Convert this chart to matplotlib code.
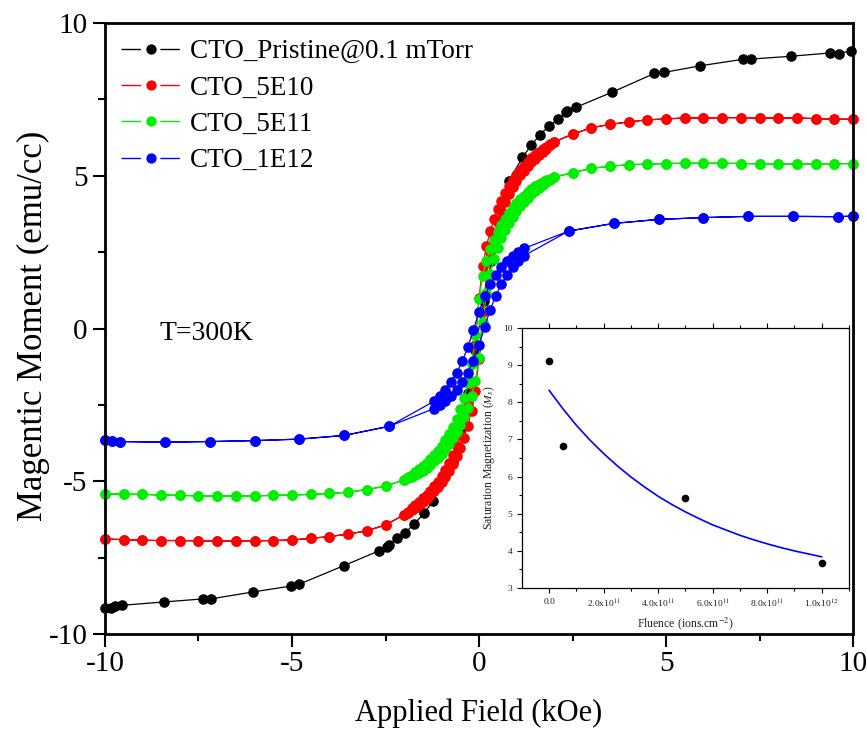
import matplotlib
matplotlib.use("Agg")
import matplotlib.pyplot as plt
from matplotlib.lines import Line2D

plt.rcParams['font.family'] = ['Liberation Serif', 'DejaVu Serif']
plt.rcParams['mathtext.fontset'] = 'stix'
plt.rcParams['axes.unicode_minus'] = False

# ---- main M-H loops (H in kOe, M in emu/cc) ----
# outer sparse points, positive side from +10 down, negative side from -2.5 down to -10
outer_H_pos = [10.0, 9.5, 9.0, 8.5, 8.0, 7.5, 7.0, 6.5, 6.0, 5.5, 5.0, 4.5, 4.0, 3.5, 3.0, 2.5]
outer_H_neg = [-2.5, -3.0, -3.5, -4.0, -4.5, -5.0, -5.5, -6.0, -6.5, -7.0, -7.5, -8.0, -8.5, -9.0, -9.5, -10.0]
dense_H = [2.0, 1.9, 1.8, 1.7, 1.6, 1.5, 1.4, 1.3, 1.2, 1.1, 1.0, 0.9, 0.8, 0.7, 0.6, 0.5, 0.4, 0.3, 0.2, 0.1,
           0.0, -0.1, -0.2, -0.3, -0.4, -0.5, -0.6, -0.7, -0.8, -0.9, -1.0, -1.1, -1.2, -1.3, -1.4, -1.5,
           -1.6, -1.7, -1.8, -1.9, -2.0]

black_H = [9.94, 9.63, 9.39, 8.34, 7.28, 7.05, 5.92, 4.94, 4.69, 3.55, 2.59, 2.36, 2.32, 2.12, 1.87, 1.62,
           1.40, 1.16, 0.80, 0.55, 0.33, 0.12, -0.10, -0.30, -0.50, -0.70, -1.24, -1.46, -1.73, -1.97, -2.20,
           -2.41, -2.46, -2.68, -3.61, -4.81, -5.03, -6.03, -7.17, -7.38, -8.42, -9.55, -9.72, -9.83, -10.0]
black_M = [9.09, 9.00, 9.02, 8.91, 8.82, 8.81, 8.60, 8.38, 8.35, 7.73, 7.24, 7.13, 7.07, 6.85, 6.63, 6.33,
           6.00, 5.60, 4.83, 3.50, 2.20, 0.90, -0.70, -2.10, -3.30, -4.38, -5.66, -6.04, -6.39, -6.68, -6.86,
           -7.07, -7.14, -7.28, -7.76, -8.37, -8.43, -8.62, -8.85, -8.85, -8.95, -9.06, -9.08, -9.15, -9.14]

red_pos = [6.85, 6.85, 6.87, 6.89, 6.89, 6.89, 6.90, 6.90, 6.89, 6.89, 6.86, 6.83, 6.76, 6.68, 6.57, 6.36]
red_neg = [-6.43, -6.62, -6.73, -6.81, -6.87, -6.92, -6.94, -6.95, -6.95, -6.95, -6.95, -6.94, -6.94, -6.93, -6.91, -6.89]
red_down = [6.10, 6.03, 5.95, 5.87, 5.78, 5.68, 5.57, 5.45, 5.32, 5.18, 5.02, 4.85, 4.65, 4.43, 4.18, 3.90, 3.57,
            3.18, 2.70, 2.05, 1.00, -0.55, -1.75, -2.50, -3.05, -3.48, -3.84, -4.14, -4.40, -4.63, -4.83, -5.01,
            -5.17, -5.31, -5.44, -5.56, -5.67, -5.78, -5.89, -6.00, -6.10]
red_up = [-6.10, -6.03, -5.95, -5.87, -5.78, -5.68, -5.57, -5.45, -5.32, -5.18, -5.02, -4.85, -4.65, -4.43, -4.18,
          -3.90, -3.57, -3.18, -2.70, -2.05, -1.00, 0.55, 1.75, 2.50, 3.05, 3.48, 3.84, 4.14, 4.40, 4.63, 4.83,
          5.01, 5.17, 5.31, 5.44, 5.56, 5.67, 5.78, 5.89, 6.00, 6.10]

green_pos = [5.40, 5.39, 5.39, 5.39, 5.39, 5.39, 5.40, 5.41, 5.41, 5.41, 5.40, 5.38, 5.36, 5.31, 5.24, 5.10]
green_neg = [-5.16, -5.27, -5.36, -5.40, -5.43, -5.45, -5.46, -5.48, -5.48, -5.48, -5.48, -5.46, -5.45, -5.43, -5.42, -5.41]
green_down = [4.95, 4.90, 4.85, 4.80, 4.73, 4.65, 4.56, 4.46, 4.35, 4.23, 4.10, 3.95, 3.79, 3.60, 3.40, 3.17, 2.90,
              2.60, 2.22, 1.72, 0.95, -0.20, -1.15, -1.80, -2.27, -2.63, -2.95, -3.22, -3.45, -3.66, -3.84, -4.00,
              -4.14, -4.27, -4.39, -4.50, -4.60, -4.69, -4.78, -4.87, -4.95]
green_up = [-4.95, -4.90, -4.85, -4.80, -4.73, -4.65, -4.56, -4.46, -4.35, -4.23, -4.10, -3.95, -3.79, -3.60, -3.40,
            -3.17, -2.90, -2.60, -2.22, -1.72, -0.95, 0.20, 1.15, 1.80, 2.27, 2.63, 2.95, 3.22, 3.45, 3.66, 3.84,
            4.00, 4.14, 4.27, 4.39, 4.50, 4.60, 4.69, 4.78, 4.87, 4.95]

blue_H_pos = [10.0, 9.6, 8.4, 7.2, 6.0, 4.8, 3.6, 2.4]
blue_pos = [3.68, 3.66, 3.67, 3.67, 3.63, 3.57, 3.44, 3.19]
blue_H_neg = [-2.4, -3.6, -4.8, -6.0, -7.2, -8.4, -9.6, -9.8, -10.0]
blue_neg = [-3.20, -3.50, -3.62, -3.67, -3.70, -3.72, -3.70, -3.68, -3.66]
blue_dense_H = [1.2, 1.05, 0.9, 0.75, 0.6, 0.45, 0.3, 0.15, 0.0, -0.15, -0.3, -0.45, -0.6, -0.75, -0.9, -1.05, -1.2]
blue_down = [2.62, 2.50, 2.36, 2.20, 2.00, 1.76, 1.45, 1.05, 0.55, -0.05, -0.62, -1.08, -1.45, -1.75, -2.00, -2.20, -2.38]
blue_up = [-2.62, -2.50, -2.36, -2.20, -2.00, -1.76, -1.45, -1.05, -0.55, 0.05, 0.62, 1.08, 1.45, 1.75, 2.00, 2.20, 2.38]

labels = ["CTO_Pristine@0.1 mTorr", "CTO_5E10", "CTO_5E11", "CTO_1E12"]
colors = ["black", "#ff0000", "#00ee00", "#0000ff"]

# ---- inset: saturation magnetization vs fluence ----
fluence = [0.0, 0.5e11, 5e11, 1e12]
ms = [9.12, 6.83, 5.41, 3.68]
fit_x = [0.0, 0.5e11, 1e11, 1.5e11, 2e11, 2.5e11, 3e11, 3.5e11, 4e11, 4.5e11, 5e11,
         5.5e11, 6e11, 6.5e11, 7e11, 7.5e11, 8e11, 8.5e11, 9e11, 9.5e11, 1e12]
fit_y = [8.32, 7.83, 7.38, 6.98, 6.62, 6.29, 5.99, 5.72, 5.47, 5.25, 5.05,
         4.87, 4.70, 4.56, 4.42, 4.30, 4.19, 4.09, 4.00, 3.92, 3.84]
inset_xticks = [0.0, 2e11, 4e11, 6e11, 8e11, 1e12]
inset_xticklabels = ['0.0', r'2.0x10$^{11}$', r'4.0x10$^{11}$', r'6.0x10$^{11}$', r'8.0x10$^{11}$', r'1.0x10$^{12}$']


def loop(hp, mp, hd, md_down, md_up, hn, mn):
    # descending branch then ascending branch
    H = hp + hd + hn + hn[::-1] + hd[::-1] + hp[::-1]
    M = mp + md_down + mn + mn[::-1] + md_up + mp[::-1]
    return H, M


fig = plt.figure(figsize=(8.67, 7.34), dpi=100)
ax = fig.add_axes([0.1211, 0.1362, 0.8628, 0.8325])

mk = dict(marker='o', markersize=6.6, lw=0.9, clip_on=False)
ax.plot(black_H, black_M, color=colors[0], **mk)
H, M = loop(outer_H_pos, red_pos, dense_H, red_down, red_up, outer_H_neg, red_neg)
ax.plot(H, M, color=colors[1], **mk)
H, M = loop(outer_H_pos, green_pos, dense_H, green_down, green_up, outer_H_neg, green_neg)
ax.plot(H, M, color=colors[2], **mk)
H, M = loop(blue_H_pos, blue_pos, blue_dense_H, blue_down, blue_up, blue_H_neg, blue_neg)
ax.plot(H, M, color=colors[3], **mk)

ax.set_xlim(-10, 10)
ax.set_ylim(-10, 10)
ax.set_xticks([-10, -5, 0, 5, 10])
ax.set_yticks([-10, -5, 0, 5, 10])
ax.set_xticks([-7.5, -2.5, 2.5, 7.5], minor=True)
ax.set_yticks([-7.5, -2.5, 2.5, 7.5], minor=True)
ax.tick_params(which='major', direction='out', length=9, width=1.5, labelsize=21)
ax.tick_params(which='minor', direction='out', length=5, width=1.5)
for s in ax.spines.values():
    s.set_linewidth(2)
ax.set_xlabel("Applied Field (kOe)", fontsize=22)
ax.xaxis.set_label_coords(0.5, -0.106)
ax.set_ylabel("Magentic Moment (emu/cc)", fontsize=25)
ax.yaxis.set_label_coords(-0.074, 0.505)
ax.text(-8.55, -0.15, "T=300K", fontsize=20, va='center')

handles = [Line2D([], [], color=c, marker='o', markersize=6.4, lw=1.0, linestyle=(0, (14, 14)))
           for c in colors]
ax.legend(handles, labels, loc='upper left', frameon=False, fontsize=19.5, numpoints=1,
          handlelength=2.2, handletextpad=0.35, labelspacing=0.42,
          borderaxespad=0.2, bbox_to_anchor=(0.0, 1.0))

# inset
ax2 = fig.add_axes([0.602, 0.1989, 0.377, 0.3542])
ax2.plot(fluence, ms, 'o', color='black', markersize=4.5)
ax2.plot(fit_x, fit_y, '-', color='#0000ff', lw=1.2)
ax2.set_xlim(-1e11, 1.1e12)
ax2.set_ylim(3, 10)
ax2.set_xticks(inset_xticks)
ax2.set_xticklabels(inset_xticklabels)
ax2.set_xticks([1e11, 3e11, 5e11, 7e11, 9e11, 1.1e12], minor=True)
ax2.set_yticks([3, 4, 5, 6, 7, 8, 9, 10])
ax2.set_yticks([3.5, 4.5, 5.5, 6.5, 7.5, 8.5, 9.5], minor=True)
ax2.tick_params(which='major', direction='out', length=3.5, width=0.8, labelsize=6.8,
                labelcolor='#222222', top=True)
ax2.tick_params(which='minor', direction='out', length=2, width=0.8, top=True)
for s in ax2.spines.values():
    s.set_linewidth(0.9)
ax2.set_xlabel("Fluence (ions.cm$^{-2}$)", fontsize=8.5, color='#222222', labelpad=4)
ax2.set_ylabel("Saturation Magnetization ($M_s$)", fontsize=8.5, color='#222222', labelpad=4)

fig.savefig("out.png", dpi=100)
